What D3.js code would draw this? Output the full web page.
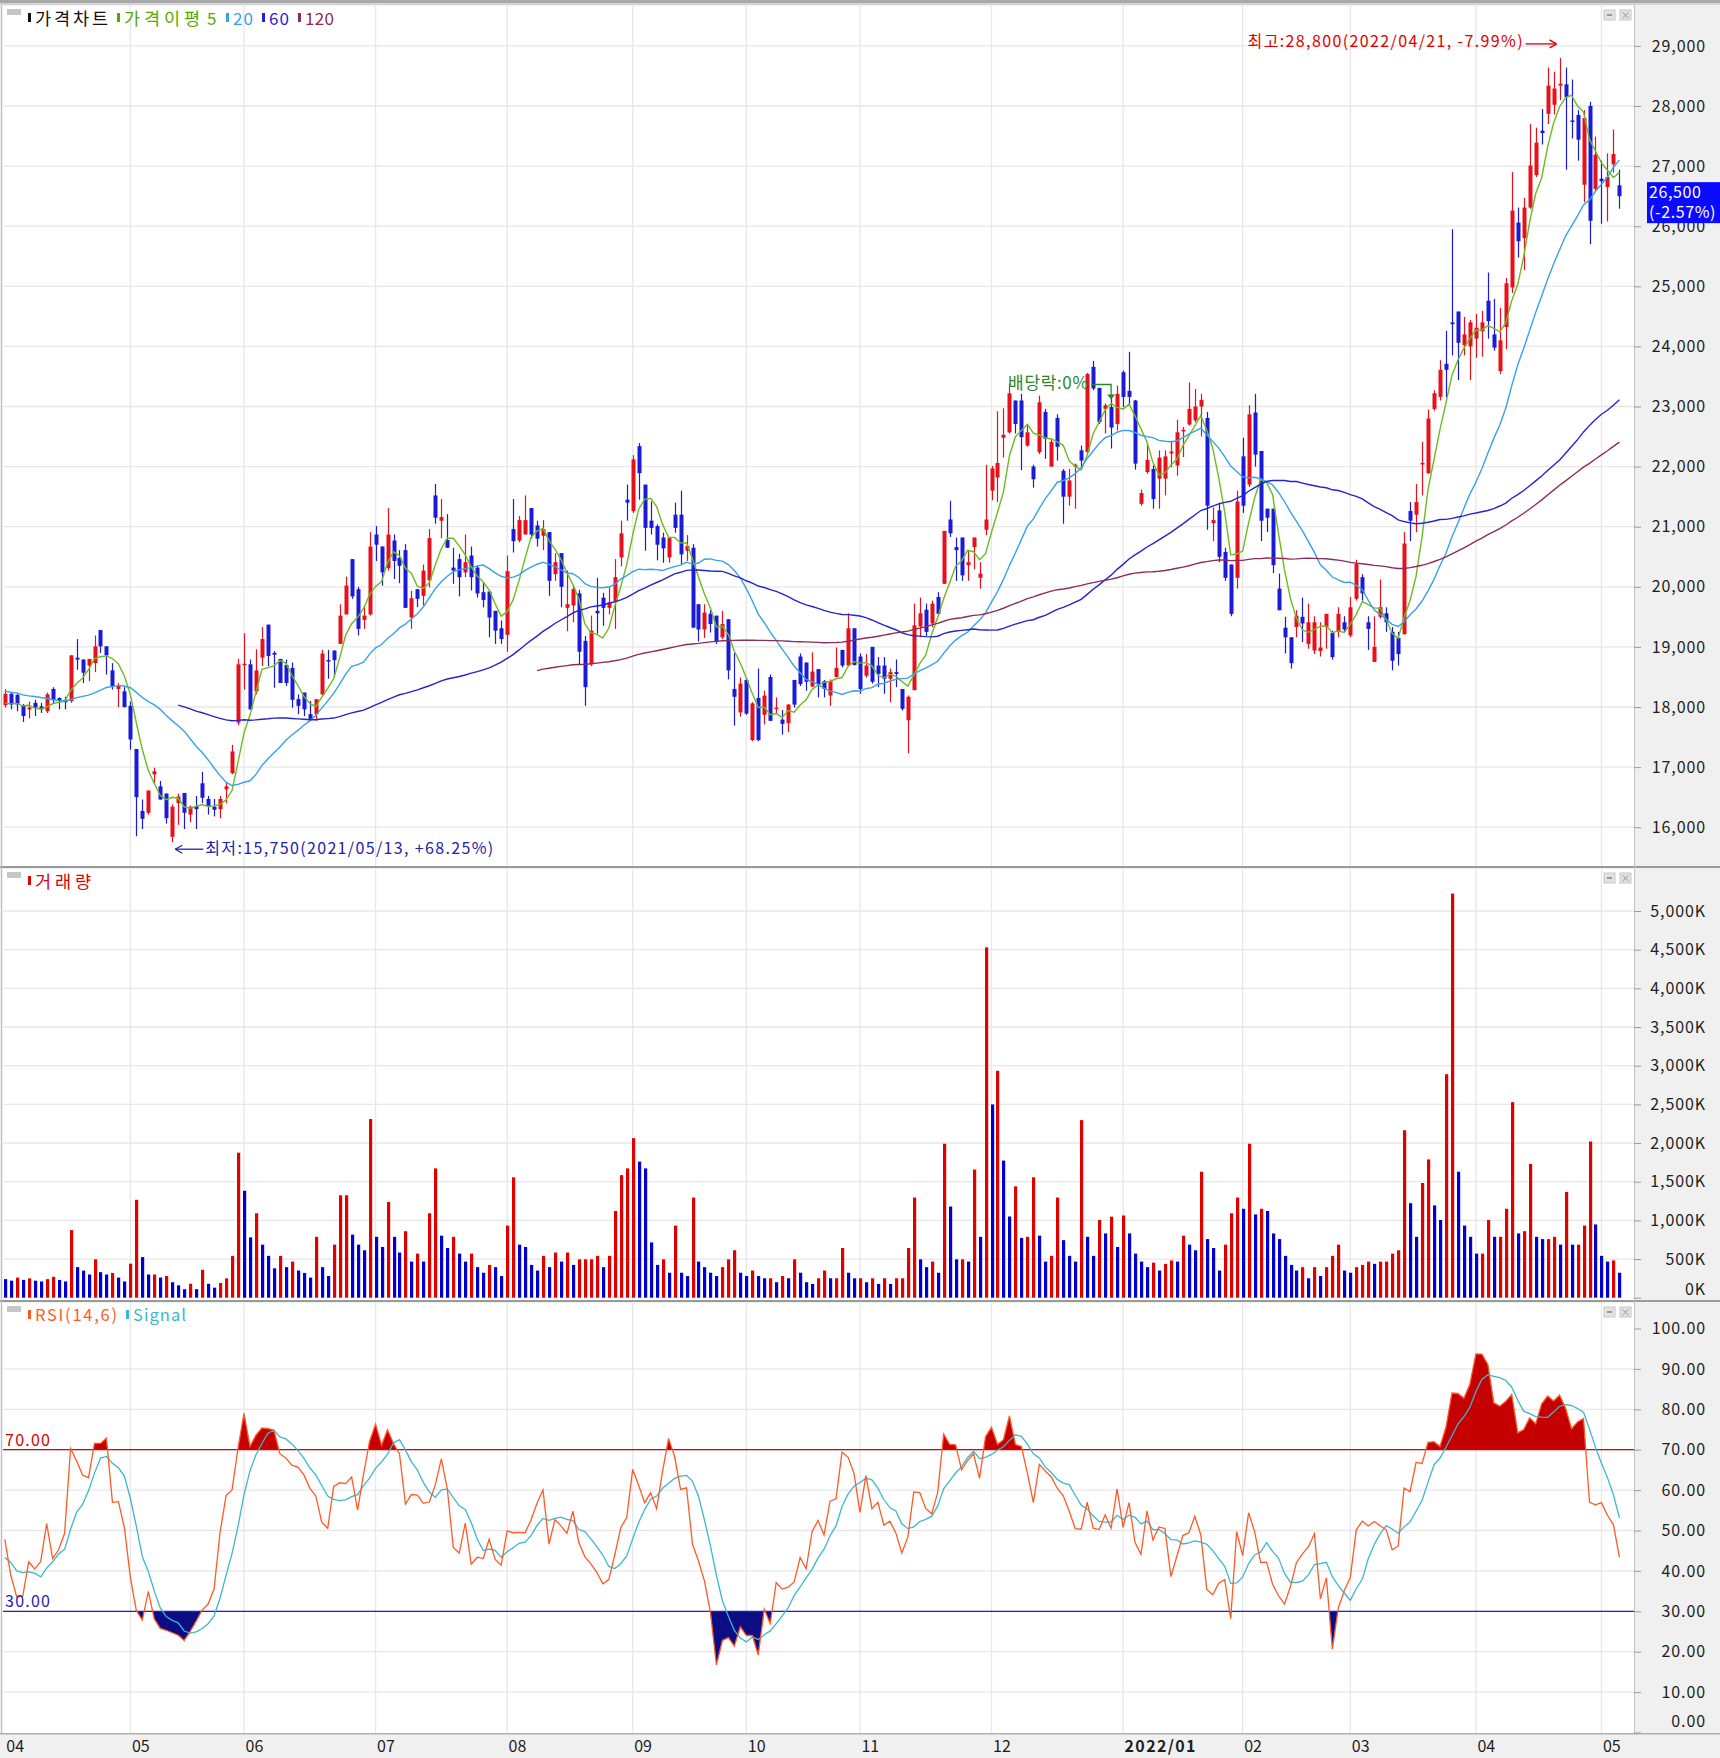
<!DOCTYPE html>
<html><head><meta charset="utf-8">
<script src="https://cdn.jsdelivr.net/npm/d3@7"></script>
<style>
body{margin:0;background:#fff;}
svg{display:block;}
text{font-family:"Noto Sans CJK KR","Noto Sans",sans-serif;}
</style>
</head><body>
<svg id="c" width="1720" height="1758"></svg>
<script>
// ---------------- DATA ----------------
// closes before the first visible day (only used to warm up the moving averages / RSI)
const hiddenCloses = [18100,18300,18450,18200,18150,18250,18350,18100,18200,18300,
18150,18400,18250,18500,18350,18200,18300,18450,18600,18400,
18250,18300,18200,18150,18350,18250,18100,18000,18050,17950];

const opens = [
18030,18220,18200,18020,17960,18070,18010,17930,18300,18150,
18120,18100,18820,18790,18690,18730,19280,19010,18610,18300,
18260,18020,17300,16270,16240,16880,16680,16560,15840,16400,
16570,16210,16350,16730,16470,16340,16300,16630,16900,17740,
18700,18710,18260,18820,19370,18900,18800,18700,18650,18130,
18240,17880,17880,18210,18780,18940,19050,19540,20460,19960,
19450,19540,20870,20670,20310,20770,20480,20610,19490,19960,
19850,20110,21520,21100,20780,20320,20460,20240,20520,20320,
19910,19920,19600,19310,19200,20960,20770,20870,21310,21020,
20850,20910,20210,20560,19650,19690,19890,19100,18710,19600,
19820,19650,19760,20490,21450,21260,22340,21700,21100,21010,
20820,20490,21200,21200,20600,20650,19710,19290,19550,19520,
19160,19460,18300,17910,18450,17450,18150,17870,18500,17970,
17790,17730,18450,18840,18740,18340,18630,18430,18190,18500,
18950,18690,19310,18840,18520,19000,18690,18690,18470,18580,
18300,17780,18280,19340,19620,19390,19830,20050,21120,20660,
20820,20360,20660,20150,20950,21600,21820,22480,22570,23100,
23100,22350,22000,22240,22910,22000,22810,21930,21500,22000,
22270,22240,23660,23310,22960,22990,22710,23570,23260,23100,
21380,21910,21960,21800,21800,22220,22020,22600,22700,22770,
23000,22810,21060,21270,20580,20370,20150,22170,21700,22900,
22260,21300,21300,19970,19320,19160,19330,19500,19050,18940,
18930,19330,19230,19250,19410,19190,19800,20160,19410,18750,
19500,19560,19250,19150,19210,21260,21200,22040,21890,22960,
23160,23710,24400,24580,24020,24000,24130,24250,24760,24200,
23590,24320,24980,26060,25800,26310,26850,27590,27870,28020,
28340,28360,27760,27850,26690,28000,26620,26790,26650,27030,
26680];
const highs = [
18300,18250,18230,18050,18090,18120,18070,18240,18330,18160,
18170,18860,19130,18790,18800,19190,19280,19010,18730,18400,
18330,18090,17300,16460,16610,16990,16770,16560,16380,16560,
16570,16360,16520,16920,16520,16470,16520,16740,17370,18800,
19230,18790,18960,19330,19370,18930,18800,18790,18740,18210,
18240,18100,18130,18950,18950,18940,19710,20170,20460,20000,
19690,20910,21010,20670,21310,20870,20610,20710,19930,19960,
20370,20960,21710,21460,21210,20650,20550,20870,20670,20350,
20080,19940,19600,19440,20520,21460,21180,21520,21310,21100,
21110,20910,20560,20560,20270,20020,19950,19180,19520,20150,
19900,19990,20460,21100,21700,22190,22390,21700,21420,21040,
20900,20830,21400,21600,20860,20710,19710,19710,19610,19520,
19600,19460,18900,18490,18490,18080,18640,18270,18540,18160,
17950,18050,18450,18890,18740,18910,18630,18450,18460,18990,
18950,19560,19310,18890,18880,19000,18830,18830,18640,18790,
18300,18190,19720,19820,19720,19770,19910,20930,21430,20820,
20820,20600,20820,20410,22030,22010,22920,22970,23380,23100,
23210,22690,22030,23180,22960,22460,22870,21960,21960,22050,
22350,23560,23760,23310,23050,23180,23350,23600,23910,23110,
21620,22370,22020,22270,22270,22430,22780,22660,23400,23290,
23210,22910,21320,21400,20650,20370,21600,22480,23020,23210,
22260,21300,21300,20220,19500,19160,19610,19820,19720,19510,
19410,19550,19270,19660,19510,19830,20450,20210,19510,19510,
20120,19660,19330,19250,20910,21410,21710,22410,22950,23270,
23770,24260,25950,24580,24490,24440,24540,24590,25230,24790,
24640,25140,26900,26310,26470,27700,27640,27950,28640,28570,
28800,28640,28440,27930,27930,28070,27490,27090,27210,27610,
26940];
const lows = [
17990,17960,17930,17750,17810,17850,17900,17900,18060,17960,
17960,18070,18620,18400,18430,18580,18900,18540,18290,18000,
17990,17290,15850,15970,16210,16710,16460,16060,15750,16040,
15970,16080,15970,16400,16210,16180,16150,16400,16880,17700,
18290,17960,18210,18680,18680,18320,18400,18350,17990,17880,
17850,17770,17770,18190,18470,18500,19050,19540,19800,19190,
19300,19520,20430,20020,20270,20130,20060,19650,19300,19660,
19690,19990,21050,20810,20650,20050,19840,20160,19940,19820,
19660,19160,19050,19050,18920,20570,20740,20870,20800,20670,
20610,19850,20100,19660,19260,19410,18700,18020,18680,19220,
19350,19540,19300,20340,21100,21230,21450,20600,20870,20440,
20400,20400,20900,20370,20430,19320,19090,19150,19240,19050,
19130,18460,17690,17840,17870,17430,17430,17710,17770,17880,
17540,17580,17990,18350,18270,18330,18160,18160,18020,18490,
18660,18690,18690,18220,18490,18390,18330,18220,18080,18330,
17940,17230,18280,19160,19180,19330,19520,20050,20830,20100,
20100,20100,20290,19970,20860,21440,21410,22150,22550,22550,
21940,22330,21650,22210,22130,22000,22100,21050,21350,21300,
21960,22210,23270,22710,22550,22300,22600,22990,23020,21950,
21350,21880,21300,21300,21520,21990,21850,22160,22680,22740,
22500,20950,20760,20410,20100,19510,19970,21230,21660,22000,
20760,20910,20230,19610,18890,18640,19160,19080,18970,18880,
18840,18970,18790,19160,19250,19160,19770,19770,18950,18750,
19470,19250,18610,18690,19210,20760,20910,21520,21880,22930,
23100,23150,23850,23440,23850,23440,23810,23830,24130,23930,
23540,23950,24890,25480,25270,26290,26820,27360,27700,27860,
28100,26940,27460,27090,26400,25700,26580,26040,26080,26890,
26290];
const closes = [
18220,18040,18040,17850,17990,17990,17960,18210,18120,18100,
18080,18860,18790,18570,18800,19010,19010,18860,18350,18360,
18000,17460,16500,16140,16610,16930,16460,16150,16340,16510,
16240,16340,16300,16490,16350,16290,16470,16680,17260,18710,
18720,17960,18610,19130,18850,18870,18400,18400,18120,18020,
17960,17800,18130,18890,18770,18780,19520,20020,19840,19300,
19520,20670,20700,20240,20870,20430,20350,19650,19810,19800,
20270,20810,21150,21160,20650,20270,20160,20410,20160,19890,
19780,19490,19270,19130,20260,20760,21110,21110,20870,20800,
20960,20100,20410,20000,19710,19960,18920,18330,19270,19560,
19650,19740,20160,20890,21400,22120,21890,20980,20980,20700,
20640,20810,20980,20540,20680,19320,19290,19570,19380,19090,
19380,18610,18170,18390,17890,18060,17450,18190,17770,17990,
17720,18040,18040,18380,18420,18590,18380,18300,18430,18650,
18690,19310,18700,18300,18690,18420,18550,18470,18580,18550,
17970,18170,19360,19560,19250,19720,19550,20930,20890,20610,
20190,20410,20820,20220,21120,21970,22060,22530,23220,22710,
22490,22570,21790,23070,22460,22410,22330,21500,21770,22030,
22100,23540,23300,22740,23020,22650,23210,23160,23160,22050,
21560,22110,21460,22150,22170,22250,22570,22610,22960,23000,
23110,21350,21110,20500,20150,19550,21420,21350,22870,22200,
21100,21150,20360,19610,19160,18730,19520,19390,19410,19410,
18990,19550,18830,19550,19290,19660,20380,19890,19300,19000,
19660,19410,18770,18880,20720,21100,21410,22060,22800,23220,
23610,23610,24370,24060,24200,24400,24310,24400,24420,23980,
24100,25050,26260,25750,26310,27010,27390,27550,28340,28290,
28370,28150,27740,27440,27800,26090,27190,26750,26820,27200,
26500];
// trading volume, in thousands of shares
const volumes = [
240,220,260,230,250,220,210,240,270,230,
210,874,395,350,300,496,330,300,320,260,
210,440,1266,525,300,300,260,280,200,160,
110,180,110,360,180,130,190,250,541,1875,
1382,780,1092,686,541,380,541,395,467,351,
320,260,787,395,280,686,1324,1324,816,686,
613,2310,787,656,1237,787,584,860,467,570,
467,1092,1672,802,642,787,570,467,570,395,
323,424,395,280,932,1556,686,656,424,351,
541,395,584,467,584,424,496,496,496,541,
395,541,1121,1585,1672,2063,1759,1672,715,424,
496,323,932,323,280,1295,467,395,323,280,
395,496,613,323,280,351,280,251,251,200,
280,251,496,323,200,178,251,351,251,251,
642,323,251,251,200,251,178,251,178,251,
251,642,1295,496,395,467,323,1991,1179,496,
496,467,1657,787,4529,2499,2934,1773,1050,1440,
773,787,1556,802,467,541,1295,744,541,467,
2296,787,541,1005,831,1048,656,1063,831,570,
467,395,453,351,438,482,467,802,686,613,
1629,758,642,351,686,1092,1295,1150,1991,1077,
1150,1121,831,758,541,424,351,395,251,395,
280,395,541,686,351,323,395,424,467,438,
467,467,570,613,2165,1222,787,1483,1788,1193,
1005,2890,5225,1629,932,787,570,570,1005,787,
787,1150,2528,831,860,1730,787,758,758,787,
686,1367,686,686,932,2020,947,541,467,482,
323];

const monthLabels = ["04","05","06","07","08","09","10","11","12","2022/01","02","03","04","05"];
const monthStartIdx = [0,21,40,62,84,105,124,143,165,187,207,225,246,267];
const priceTicks = [16000,17000,18000,19000,20000,21000,22000,23000,24000,25000,26000,27000,28000,29000];
const volumeTicks = [0,500,1000,1500,2000,2500,3000,3500,4000,4500,5000];
const rsiTicks = [0,10,20,30,40,50,60,70,80,90,100];
const maPeriods = [5,20,60,120];
const maColors = ["#6cbb22","#38a2e6","#2424d2","#8c2c5c"];
const highInfo = {idx:260, text:"최고:28,800(2022/04/21, -7.99%)"};
const lowInfo = {idx:28, text:"최저:15,750(2021/05/13, +68.25%)"};
const divInfo = {idx:185, text:"배당락:0%"};
const lastText = ["26,500","(-2.57%)"];

// ---------------- LAYOUT ----------------
const W = 1720, H = 1758;
const plotL = 3, plotR = 1634;
const P = {top:6, bottom:866};
const V = {top:869, bottom:1300};
const R = {top:1303, bottom:1733};
const UP = "#e8101a", DN = "#1a1ad8";

const svg = d3.select("#c");
const N = closes.length;
const x = d3.scaleLinear().domain([0, N-1]).range([4.8, 4.8 + (N-1)*5.98]);
const yP = d3.scaleLinear().domain([16000, 29000]).range([827.2, 45.9]);
const yV = d3.scaleLinear().domain([0, 5000]).range([1297.7, 911]);
const yR = d3.scaleLinear().domain([0, 100]).range([1732.5, 1328.5]);

// ---------------- INDICATORS ----------------
const all = hiddenCloses.concat(closes);
const Hn = hiddenCloses.length;
function sma(period){
  return closes.map((c,i)=>{
    const j = i + Hn;
    if (j + 1 < period) return null;
    let s = 0; for (let k=j-period+1;k<=j;k++) s += all[k];
    return s/period;
  });
}
const rsiAll = all.map((c,j)=>{
  if (j < 14) return null;
  let up=0, dn=0;
  for (let k=j-13;k<=j;k++){ const d = all[k]-all[k-1]; if (d>0) up+=d; else dn-=d; }
  return (up+dn)===0 ? 50 : 100*up/(up+dn);
});
const sigAll = rsiAll.map((r,j)=>{
  if (j < 19) return null;
  return d3.mean(rsiAll.slice(j-5, j+1));
});
const rsi = rsiAll.slice(Hn), sig = sigAll.slice(Hn);

// ---------------- BACKGROUND / FRAME ----------------
svg.append("rect").attr("width",W).attr("height",H).attr("fill","#f0f0f0");
[P,V,R].forEach(pn=>{
  svg.append("rect").attr("x",plotL).attr("y",pn.top).attr("width",plotR-plotL).attr("height",pn.bottom-pn.top).attr("fill","#fff");
});
svg.append("rect").attr("x",0).attr("y",0).attr("width",W).attr("height",3).attr("fill","#a9a9a9");
svg.append("rect").attr("x",0).attr("y",3).attr("width",W).attr("height",2).attr("fill","#d4d4d4");
[867,1301].forEach(a=>{
  svg.append("rect").attr("x",0).attr("y",a-1).attr("width",W).attr("height",2).attr("fill","#9a9a9a");
});
svg.append("rect").attr("x",0).attr("y",1733).attr("width",W).attr("height",1.5).attr("fill","#b0b0b0");
svg.append("line").attr("x1",plotR+0.5).attr("x2",plotR+0.5).attr("y1",5).attr("y2",1733).attr("stroke","#c4c4c4");
svg.append("line").attr("x1",1.5).attr("x2",1.5).attr("y1",5).attr("y2",1733).attr("stroke","#bdbdbd");

// ---------------- GRIDS & AXES ----------------
const grid = svg.append("g").attr("stroke","#e7e7e7").attr("stroke-width",1.3);
function hgrid(ticks, sc){
  ticks.forEach(t=>grid.append("line").attr("x1",plotL).attr("x2",plotR).attr("y1",sc(t)).attr("y2",sc(t)));
}
hgrid(priceTicks, yP); hgrid(volumeTicks.slice(1), yV); hgrid(rsiTicks.slice(1,-1), yR);
[P,V,R].forEach(pn=>{
  monthStartIdx.slice(1).forEach(i=>grid.append("line").attr("x1",x(i)).attr("x2",x(i)).attr("y1",pn.top).attr("y2",pn.bottom));
});

function rightAxis(sc, ticks, fmt, bottomShift){
  const g = svg.append("g").attr("transform",`translate(${plotR},0)`);
  const ax = d3.axisRight(sc).tickValues(ticks).tickSize(7).tickPadding(10).tickFormat(fmt);
  g.call(ax);
  g.select(".domain").remove();
  g.selectAll(".tick line").attr("stroke","#9c9c9c");
  g.selectAll(".tick text").attr("font-size",16).attr("fill","#1e1e1e")
    .attr("text-anchor","end").attr("x",72).attr("dy","0.32em").attr("letter-spacing",0.9)
    .attr("font-family",'"Noto Sans CJK KR",sans-serif');
  if (bottomShift) g.selectAll(".tick").filter(d=>d===ticks[0]).select("text").attr("dy",bottomShift);
  return g;
}
rightAxis(yP, priceTicks, d3.format(","));
rightAxis(yV, volumeTicks, d=>d3.format(",")(d)+"K", "-0.2em");
rightAxis(yR, rsiTicks, d3.format(".2f"), "-0.4em");

// bottom month labels
const xl = svg.append("g");
monthLabels.forEach((lab,k)=>{
  const t = xl.append("text").attr("x",x(monthStartIdx[k])+1.5).attr("y",1752)
    .attr("font-size",16).attr("fill","#1e1e1e")
    .attr("font-weight",lab.includes("/")?"bold":"normal").text(lab);
  if (lab.includes("/")) t.attr("textLength",71).attr("lengthAdjust","spacing");
});

// clip
const defs = svg.append("defs");
defs.append("clipPath").attr("id","clipP").append("rect").attr("x",plotL).attr("y",P.top).attr("width",plotR-plotL).attr("height",P.bottom-P.top);
defs.append("clipPath").attr("id","clipV").append("rect").attr("x",plotL).attr("y",V.top).attr("width",plotR-plotL).attr("height",V.bottom-V.top);
defs.append("clipPath").attr("id","clipR").append("rect").attr("x",plotL).attr("y",R.top).attr("width",plotR-plotL).attr("height",R.bottom-R.top);
defs.append("clipPath").attr("id","clipAbove").append("rect").attr("x",plotL).attr("y",R.top).attr("width",plotR-plotL).attr("height",yR(70)-R.top);
defs.append("clipPath").attr("id","clipBelow").append("rect").attr("x",plotL).attr("y",yR(30)).attr("width",plotR-plotL).attr("height",R.bottom-yR(30));

// ---------------- CANDLES ----------------
const cg = svg.append("g").attr("clip-path","url(#clipP)");
const idx = d3.range(N);
cg.selectAll("line.w").data(idx).join("line")
  .attr("x1",i=>Math.round(x(i))+0.5).attr("x2",i=>Math.round(x(i))+0.5)
  .attr("y1",i=>yP(highs[i])).attr("y2",i=>yP(lows[i]))
  .attr("stroke",i=>closes[i]>=opens[i]?UP:DN).attr("stroke-width",1.2);
cg.selectAll("rect.b").data(idx).join("rect")
  .attr("x",i=>Math.round(x(i))-1.5).attr("width",4)
  .attr("y",i=>yP(Math.max(opens[i],closes[i])))
  .attr("height",i=>Math.max(1.5, Math.abs(yP(opens[i])-yP(closes[i]))))
  .attr("fill",i=>closes[i]>=opens[i]?UP:DN);

// moving averages
maPeriods.forEach((p,k)=>{
  const m = sma(p);
  cg.append("path").datum(idx.filter(i=>m[i]!==null))
    .attr("fill","none").attr("stroke",maColors[k]).attr("stroke-width",1.4)
    .attr("d", d3.line().x(i=>x(i)).y(i=>yP(m[i])));
});

// ---------------- VOLUME ----------------
const vg = svg.append("g").attr("clip-path","url(#clipV)");
vg.selectAll("rect").data(idx).join("rect")
  .attr("x",i=>Math.round(x(i))-1).attr("width",3.2)
  .attr("y",i=>yV(volumes[i])).attr("height",i=>yV(0)-yV(volumes[i]))
  .attr("fill",i=> (i>0 && volumes[i]>=volumes[i-1]) ? "#e00000" : "#0000d2");

// ---------------- RSI ----------------
const rg = svg.append("g");
const ridx = idx.filter(i=>rsi[i]!==null);
rg.append("path").datum(ridx).attr("clip-path","url(#clipAbove)")
  .attr("fill","#c40000")
  .attr("d", d3.area().x(i=>x(i)).y0(yR(70)).y1(i=>yR(rsi[i])));
rg.append("path").datum(ridx).attr("clip-path","url(#clipBelow)")
  .attr("fill","#0c0c84")
  .attr("d", d3.area().x(i=>x(i)).y0(yR(30)).y1(i=>yR(rsi[i])));
rg.append("line").attr("x1",plotL).attr("x2",plotR).attr("y1",yR(70)).attr("y2",yR(70)).attr("stroke","#d80000").attr("stroke-width",1.3);
rg.append("line").attr("x1",plotL).attr("x2",plotR).attr("y1",yR(30)).attr("y2",yR(30)).attr("stroke","#2222b8").attr("stroke-width",1.3);
const rc = rg.append("g").attr("clip-path","url(#clipR)");
rc.append("path").datum(idx.filter(i=>sig[i]!==null)).attr("fill","none").attr("stroke","#3cb7cf").attr("stroke-width",1.3)
  .attr("d", d3.line().x(i=>x(i)).y(i=>yR(sig[i])));
rc.append("path").datum(ridx).attr("fill","none").attr("stroke","#ff5a26").attr("stroke-width",1.3)
  .attr("d", d3.line().x(i=>x(i)).y(i=>yR(rsi[i])));
rg.append("text").attr("x",5).attr("y",yR(70)-4).attr("font-size",16).attr("fill","#d80000")
  .attr("textLength",45).attr("lengthAdjust","spacing").text("70.00");
rg.append("text").attr("x",5).attr("y",yR(30)-4).attr("font-size",16).attr("fill","#2222b8")
  .attr("textLength",45).attr("lengthAdjust","spacing").text("30.00");

// ---------------- LEGENDS ----------------
function panelIcons(top){
  svg.append("rect").attr("x",7).attr("y",top+3).attr("width",14).attr("height",6).attr("fill","#c6c6c6");
  [1604,1620].forEach((xx,k)=>{
    svg.append("rect").attr("x",xx).attr("y",top+4).attr("width",11).attr("height",10).attr("fill","#e2e2e2").attr("stroke","#c8c8c8");
    if(k===0) svg.append("rect").attr("x",xx+3).attr("y",top+8).attr("width",5).attr("height",2).attr("fill","#9a9a9a");
    else svg.append("text").attr("x",xx+5.5).attr("y",top+12.5).attr("text-anchor","middle").attr("font-size",10).attr("fill","#9a9a9a").text("×");
  });
}
panelIcons(P.top); panelIcons(V.top); panelIcons(R.top);

function legendItem(xx, y, color, label, size, width){
  svg.append("rect").attr("x",xx).attr("y",y-6).attr("width",3).attr("height",9).attr("fill",color);
  const t = svg.append("text").attr("x",xx+7).attr("y",y+1).attr("dominant-baseline","middle")
    .attr("font-size",size||17).attr("fill",color).text(label);
  if (width) t.attr("textLength",width).attr("lengthAdjust","spacing");
}
legendItem(28, 19, "#111", "가격차트", 17.5, 73);
legendItem(117, 19, "#55a800", "가격이평", 17.5, 76);
svg.append("text").attr("x",207).attr("y",20).attr("dominant-baseline","middle").attr("font-size",17).attr("fill","#55a800").text("5");
legendItem(226, 19, maColors[1], "20", 17, 20);
legendItem(262, 19, maColors[2], "60", 17, 20);
legendItem(298, 19, maColors[3], "120", 17, 29);
legendItem(28, 882, "#e00000", "거래량", 17.5, 56);
legendItem(28, 1316, "#ff5a26", "RSI(14,6)", 16.5, 82);
legendItem(126, 1316, "#3cb7cf", "Signal", 16.5, 53);

// ---------------- ANNOTATIONS ----------------
const ag = svg.append("g");
// highest
const hx = x(highInfo.idx), hy = yP(29000) - 3;
ag.append("text").attr("x",hx-312).attr("y",hy).attr("dominant-baseline","middle")
  .attr("font-size",16).attr("fill","#e00000").attr("textLength",275).attr("lengthAdjust","spacing").text(highInfo.text);
ag.append("line").attr("x1",hx-34).attr("x2",hx-3).attr("y1",hy+1).attr("y2",hy+1).attr("stroke","#e00000").attr("stroke-width",1.3);
ag.append("path").attr("d",`M${hx-3},${hy+1} l-7,-4 M${hx-3},${hy+1} l-7,4`).attr("stroke","#e00000").attr("stroke-width",1.3).attr("fill","none");
// lowest
const lx = x(lowInfo.idx) + 3, ly = yP(16000) + 22;
ag.append("line").attr("x1",lx).attr("x2",lx+28).attr("y1",ly).attr("y2",ly).attr("stroke","#2222a8").attr("stroke-width",1.3);
ag.append("path").attr("d",`M${lx},${ly} l7,-4 M${lx},${ly} l7,4`).attr("stroke","#2222a8").attr("stroke-width",1.3).attr("fill","none");
ag.append("text").attr("x",lx+30).attr("y",ly).attr("dominant-baseline","middle")
  .attr("font-size",16).attr("fill","#2222a8").attr("textLength",288).attr("lengthAdjust","spacing").text(lowInfo.text);
// ex-dividend
const dx = x(divInfo.idx), dy0 = yP(23000) - 22;
ag.append("text").attr("x",dx-103).attr("y",dy0).attr("dominant-baseline","middle").attr("font-size",17).attr("fill","#2a862a")
  .attr("textLength",80).attr("lengthAdjust","spacing").text(divInfo.text);
ag.append("path").attr("d",`M${dx-20},${dy0} H${dx} V${dy0+12}`).attr("stroke","#2a862a").attr("stroke-width",1.3).attr("fill","none");
ag.append("path").attr("d",`M${dx-4},${dy0+10} L${dx+4},${dy0+10} L${dx},${dy0+15} Z`).attr("fill","#2a862a");

// last price tag
const ty = yP(closes[N-1]);
ag.append("rect").attr("x",1647).attr("y",ty-14).attr("width",73).attr("height",41).attr("fill","#0a0aff");
ag.append("text").attr("x",1649).attr("y",ty+2).attr("font-size",16).attr("fill","#fff").attr("letter-spacing",0.6).text(lastText[0]);
ag.append("text").attr("x",1649).attr("y",ty+22).attr("font-size",16).attr("fill","#fff").attr("letter-spacing",0.6).text(lastText[1]);
</script>
</body></html>
